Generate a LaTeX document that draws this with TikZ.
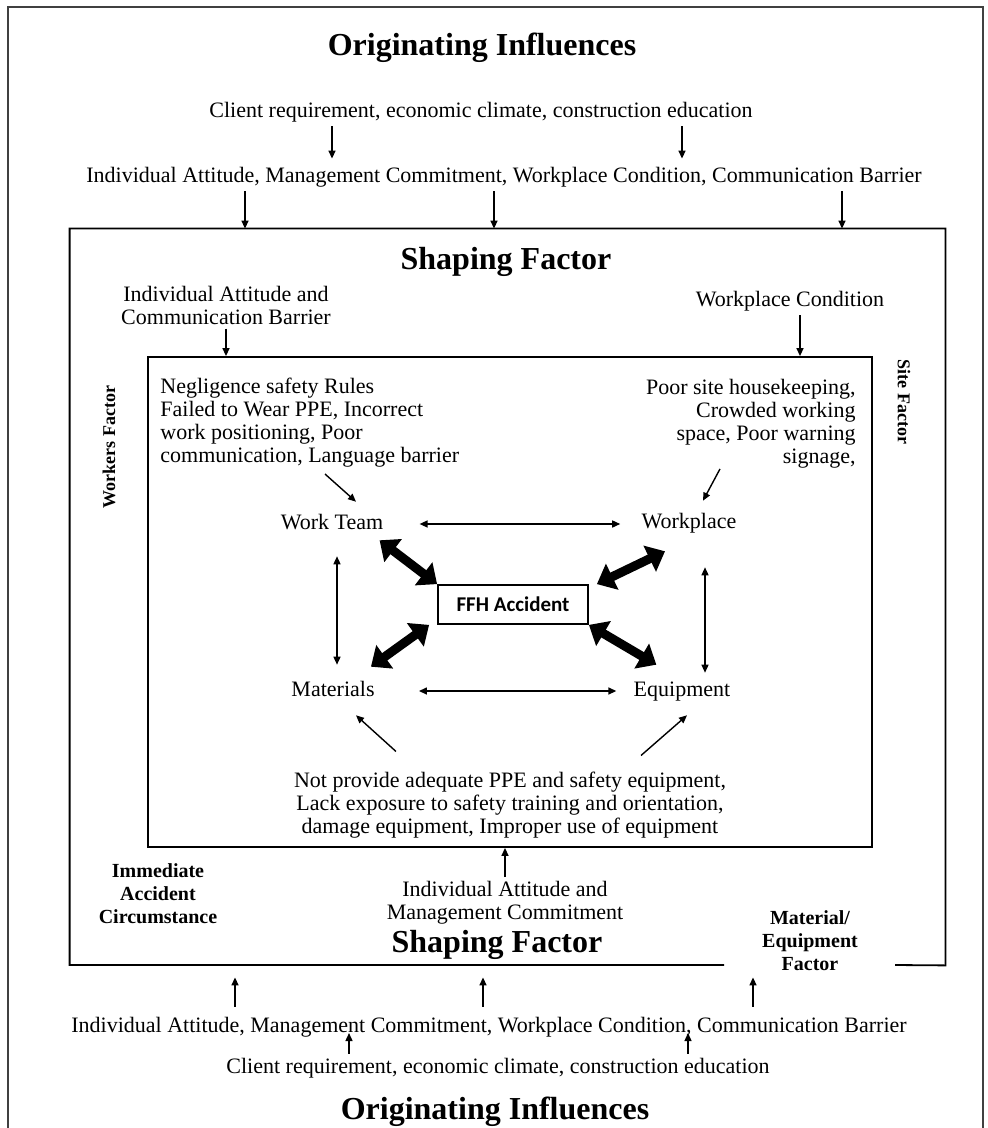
\documentclass[tikz,border=0pt]{standalone}
\usepackage{fontspec}
\setmainfont{Liberation Serif}
\newfontfamily\calibri{Carlito}
\usetikzlibrary{arrows.meta, fit}

\begin{document}
\begin{tikzpicture}[
		x=0.5pt, y=-0.5pt,
		txt/.style={inner sep=2pt, align=center, font=\fontsize{11}{11.5}\selectfont},
		part/.style={txt, text height=7.5pt, text depth=2.4pt},
		hd/.style={inner sep=2pt, font=\fontsize{16}{18}\selectfont\bfseries},
		lbl/.style={inner sep=2pt, align=center, font=\fontsize{10}{11.5}\selectfont\bfseries},
		side/.style={inner sep=2pt, font=\fontsize{9}{10}\selectfont\bfseries},
		frame/.style={draw, line width=0.9pt},
		arr/.style={-{Triangle[length=4pt,width=3.5pt]}, line width=0.7pt},
		dbl/.style={{Triangle[length=4pt,width=3.5pt]}-{Triangle[length=4pt,width=3.5pt]}, line width=0.7pt},
		fat/.style={{Triangle[length=8.5pt,width=14pt]}-{Triangle[length=8.5pt,width=14pt]}, line width=4.5pt}
	]
	\useasboundingbox (0,0) rectangle (987,1128);
	\draw[line width=1.2pt, black!75] (8,1128) -- (8,7) -- (983,7) -- (983,1128);

	% boxes
	\coordinate (midNW) at (70,229);
	\coordinate (midSE) at (945,965);
	\node[fit=(midNW)(midSE), inner sep=0pt] (mid) {};
	\draw[frame] (724,965) -| (mid.north west) -| (mid.south east) -- (895,965);
	\coordinate (inNW) at (148,357);
	\coordinate (inSE) at (872,847);
	\node[frame, fit=(inNW)(inSE), inner sep=0pt] (inner) {};

	% top influences
	\node[hd] (orig1) at (482,48) {Originating Influences};
	\node[txt] (client1) at (481,112) {Client requirement, economic climate, construction education};
	\node[txt] (indiv1) at (504,177) {Individual Attitude, Management Commitment, Workplace Condition, Communication Barrier};
	\draw[arr, shorten >=2pt] ([xshift=-74.5pt]client1.south) -- ([xshift=-74.5pt]client1.south |- indiv1.north);
	\draw[arr, shorten >=2pt] ([xshift=100.5pt]client1.south) -- ([xshift=100.5pt]client1.south |- indiv1.north);
	\draw[arr] ([xshift=-129.5pt]indiv1.south) -- ([xshift=-129.5pt]indiv1.south |- mid.north);
	\draw[arr] ([xshift=-5pt]indiv1.south) -- ([xshift=-5pt]indiv1.south |- mid.north);
	\draw[arr] ([xshift=169pt]indiv1.south) -- ([xshift=169pt]indiv1.south |- mid.north);

	% shaping factor (top)
	\node[hd] (shape1) at (506,262) {Shaping Factor};
	\node[txt] (ia1) at (226,305) {Individual Attitude and\\Communication Barrier};
	\node[txt] (wc1) at (790,301) {Workplace Condition};
	\draw[arr] (ia1.south) -- (ia1.south |- inner.north);
	\draw[arr] ([xshift=5pt]wc1.south) -- ([xshift=5pt]wc1.south |- inner.north);
	\node[side, rotate=90] (workers) at (109,447) {Workers Factor};
	\node[side, rotate=-90] (site) at (904,402) {Site Factor};

	% immediate circumstances
	\node[txt, align=left, anchor=west] (neg) at (156,423) {Negligence safety Rules\\Failed to Wear PPE, Incorrect\\work positioning, Poor\\communication, Language barrier};
	\node[txt, align=right, anchor=east] (poor) at (860,424) {Poor site housekeeping,\\Crowded working\\space, Poor warning\\signage,};
	\node[part] (team) at (332,524) {Work Team};
	\node[part] (place) at (689,523) {Workplace};
	\node[part] (mater) at (333,691) {Materials};
	\node[part] (equip) at (682,691) {Equipment};
	\node[draw, line width=0.9pt, minimum width=75pt, minimum height=19.5pt, inner sep=0pt,
		font=\calibri\fontsize{10.5}{12}\selectfont\bfseries] (ffh) at (513,604.5) {FFH Accident};
	\node[txt] (notprov) at (510,805) {Not provide adequate PPE and safety equipment,\\Lack exposure to safety training and orientation,\\damage equipment, Improper use of equipment};

	\draw[arr] ([shift={(84.5pt,-1pt)}]neg.south west) -- ([shift={(12pt,4pt)}]team.north);
	\draw[arr] ([shift={(-70pt,2pt)}]poor.south east) -- ([shift={(7pt,4pt)}]place.north);
	\draw[arr] ([shift={(-57pt,8pt)}]notprov.north) -- ([shift={(11.5pt,-5pt)}]mater.south);
	\draw[arr] ([shift={(65.5pt,6pt)}]notprov.north) -- ([shift={(2.5pt,-5pt)}]equip.south);

	\draw[dbl, shorten <=16pt, shorten >=8.5pt] (team.east) -- (team.east -| place.west);
	\draw[dbl, shorten <=20pt, shorten >=6.5pt] (mater.east) -- (mater.east -| equip.west);
	\draw[dbl, shorten <=9pt, shorten >=6pt] ([xshift=2.5pt]team.south) -- ([xshift=2.5pt]team.south |- mater.north);
	\draw[dbl, shorten <=15pt, shorten >=2pt] ([xshift=8pt]place.south) -- ([xshift=8pt]place.south |- equip.north);

	\draw[fat] ([shift={(-4pt,-1pt)}]team.south east) -- (ffh.north west);
	\draw[fat] ([shift={(-12pt,-7pt)}]place.south) -- ([xshift=4pt]ffh.north east);
	\draw[fat] ([shift={(-4pt,5pt)}]mater.north east) -- ([xshift=-4pt]ffh.south west);
	\draw[fat] ([shift={(13.5pt,6pt)}]equip.north west) -- (ffh.south east);

	% shaping factor (bottom)
	\node[txt] (ia2) at (505,903) {Individual Attitude and\\Management Commitment};
	\draw[arr] (ia2.north) -- (ia2.north |- inner.south);
	\node[hd] (shape2) at (497,945) {Shaping Factor};
	\node[lbl] (imm) at (158,894) {Immediate\\Accident\\Circumstance};
	\node[lbl] (mat) at (810,941) {Material/\\Equipment\\Factor};

	% bottom influences
	\node[txt] (indiv2) at (489,1027) {Individual Attitude, Management Commitment, Workplace Condition, Communication Barrier};
	\node[txt] (client2) at (498,1068) {Client requirement, economic climate, construction education};
	\node[hd] (orig2) at (495,1112) {Originating Influences};
	\draw[arr, shorten <=3pt, shorten >=6pt] ([xshift=-127pt]indiv2.north) -- ([xshift=-127pt]indiv2.north |- mid.south);
	\draw[arr, shorten <=3pt, shorten >=6pt] ([xshift=-3pt]indiv2.north) -- ([xshift=-3pt]indiv2.north |- mid.south);
	\draw[arr, shorten <=3pt, shorten >=6pt] ([xshift=132pt]indiv2.north) -- ([xshift=132pt]indiv2.north |- mid.south);
	\draw[arr, shorten >=3pt] ([xshift=-74.5pt]client2.north) -- ([xshift=-74.5pt]client2.north |- indiv2.center);
	\draw[arr, shorten >=3pt] ([xshift=95pt]client2.north) -- ([xshift=95pt]client2.north |- indiv2.center);
\end{tikzpicture}
\end{document}
